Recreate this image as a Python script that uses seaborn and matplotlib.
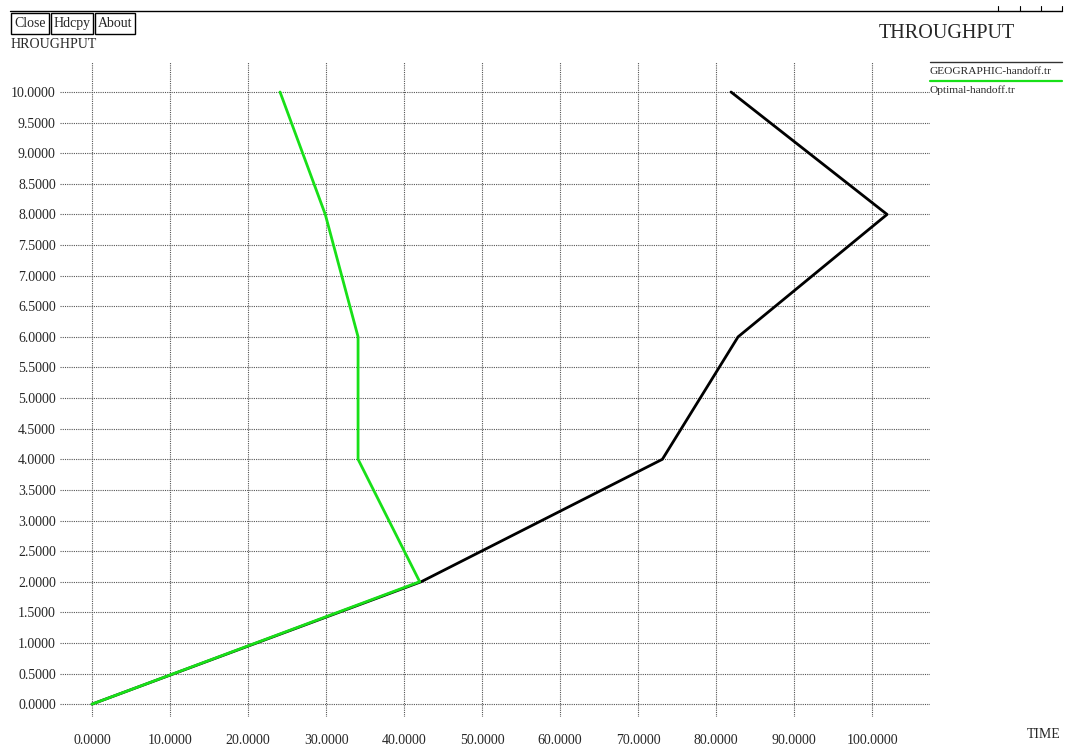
import pandas as pd
import seaborn as sns
import matplotlib.pyplot as plt
from matplotlib.lines import Line2D
from matplotlib.patches import Rectangle

# trace data
geo_time = [0.0, 42.2, 73.1, 82.8, 101.9, 81.9]
geo_thr = [0.0, 2.0, 4.0, 6.0, 8.0, 10.0]
opt_time = [0.0, 42.0, 34.1, 34.1, 29.9, 24.1]
opt_thr = [0.0, 2.0, 4.0, 6.0, 8.0, 10.0]
names = ["GEOGRAPHIC-handoff.tr", "Optimal-handoff.tr"]
colors = ["#000000", "#18e018"]

x_ticks = [i * 10 for i in range(11)]
y_ticks = [i * 0.5 for i in range(21)]

df = pd.concat([
    pd.DataFrame({"time": geo_time, "thr": geo_thr, "trace": names[0]}),
    pd.DataFrame({"time": opt_time, "thr": opt_thr, "trace": names[1]}),
])

sns.set_style("white")
plt.rcParams["font.family"] = ["Liberation Serif", "DejaVu Serif"]

W, H = 1068, 753
fig = plt.figure(figsize=(W / 100, H / 100), dpi=100)
ax = fig.add_axes([60 / W, 1 - 717 / H, 870 / W, 655 / H])

sns.lineplot(data=df, x="time", y="thr", hue="trace", palette=colors,
             sort=False, estimator=None, linewidth=2.0, legend=False, ax=ax)

ax.set_xlim(-4.1, 107.4)
ax.set_ylim(-0.21, 10.49)
ax.set_xticks(x_ticks)
ax.set_yticks(y_ticks)
ax.set_xticklabels([f"{v:.4f}" for v in x_ticks], fontsize=10)
ax.set_yticklabels([f"{v:.4f}" for v in y_ticks], fontsize=10)
ax.tick_params(axis="x", length=0, pad=12)
ax.tick_params(axis="y", length=0, pad=3)
ax.grid(True, linestyle=(0, (1, 1)), color="#555555", linewidth=0.8)
ax.set_axisbelow(True)
for s in ax.spines.values():
    s.set_visible(False)
ax.set_xlabel("")
ax.set_ylabel("")

def px(x, y):
    return x / W, 1 - y / H

# window header bits
fig.add_artist(Line2D([10 / W, 1062 / W], [1 - 11 / H] * 2, color="black", lw=1))
for tx in [998, 1020, 1041, 1062]:
    fig.add_artist(Line2D([tx / W] * 2, [1 - 6 / H, 1 - 11 / H], color="black", lw=0.8))
for x0, x1, lab in [(11, 49, "Close"), (51, 93, "Hdcpy"), (95, 135, "About")]:
    fig.add_artist(Rectangle(px(x0, 34), (x1 - x0) / W, 21 / H, fill=False,
                             edgecolor="black", lw=1, transform=fig.transFigure))
    fig.text(*px((x0 + x1) / 2, 23.5), lab, ha="center", va="center", fontsize=10)

fig.text(*px(11, 45), "HROUGHPUT", ha="left", va="center", fontsize=10)
fig.text(*px(879, 33), "THROUGHPUT", ha="left", va="center", fontsize=14.5)
fig.text(*px(1027, 735), "TIME", ha="left", va="center", fontsize=10)

# legend drawn like xgraph: line above each name
for i, (nm, c) in enumerate(zip(names, colors)):
    yl = 62 + i * 19
    fig.add_artist(Line2D([930 / W, 1062 / W], [1 - yl / H] * 2,
                          color="#333333" if i == 0 else c, lw=1 if i == 0 else 1.6))
    fig.text(*px(930, yl + 9), nm, ha="left", va="center", fontsize=8.2)

fig.savefig("out.png", dpi=100)
